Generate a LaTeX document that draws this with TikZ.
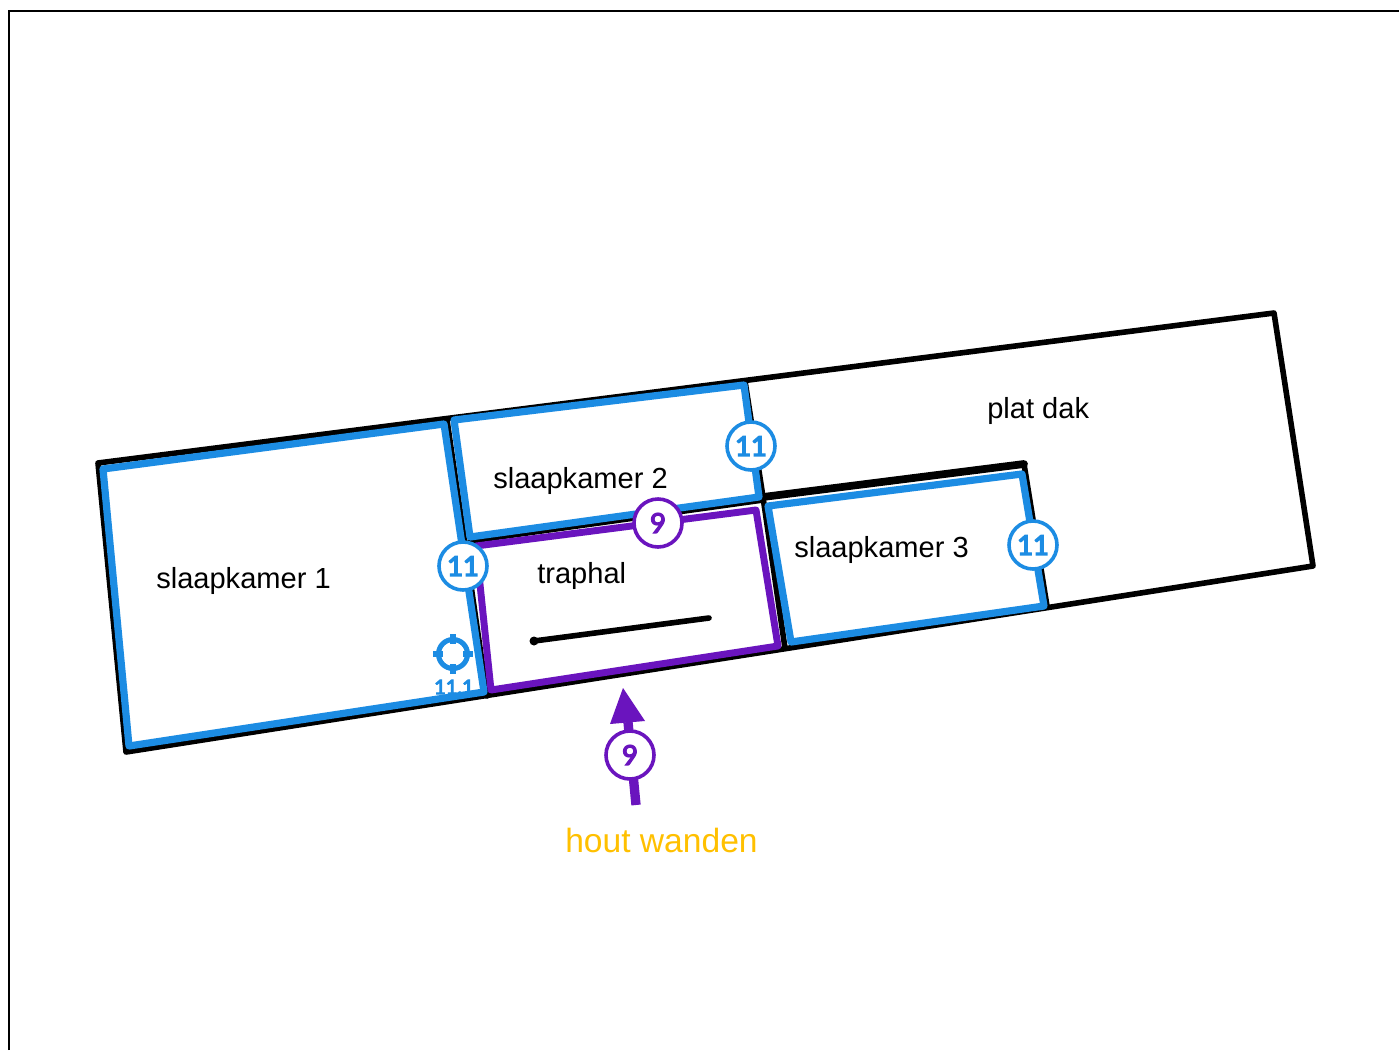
\documentclass[tikz,border=0pt]{standalone}
\usepackage{fontspec}
\setmainfont{Liberation Sans}
\newfontfamily\badgefont[FakeBold=5]{Lato}
\definecolor{bluewall}{HTML}{1C8CE3}
\definecolor{purplewall}{HTML}{6A14BE}
\definecolor{goldtext}{HTML}{FFC000}
\tikzset{
  wall/.style={draw=black,line width=5.8pt,line join=round,line cap=round},
  thinwall/.style={draw=black,line width=4.2pt,line join=round,line cap=round},
  blueroom/.style={draw=bluewall,line width=5.4pt,line join=round,line cap=round},
  purpleroom/.style={draw=purplewall,line width=5.2pt,line join=round,line cap=round},
  roomlabel/.style={font=\fontsize{21.8}{26}\selectfont,text=black,inner sep=0pt,anchor=base west},
  badge/.style={circle,draw=#1,fill=white,line width=2.7pt,minimum size=36pt,inner sep=0pt,text=#1,font=\badgefont\fontsize{20.5}{24}\selectfont},
}
\begin{document}
\begin{tikzpicture}[x=0.75pt,y=-0.75pt]
\useasboundingbox (0,0) rectangle (1399,1050);
\fill[white] (0,0) rectangle (1399,1050);
% frame
\draw[black,line width=2.2pt] (9,1050) -- (9,11) -- (1399,11);
% outline
\draw[thinwall] (98,463) -- (1274,313) -- (1313,566) -- (126,752) -- cycle;
% inner walls
\draw[thinwall] (447,420) -- (487,696);
\draw[thinwall] (745,381) -- (763,497) -- (785,648);
\draw[wall] (763,497) -- (1024,464);
\draw[thinwall] (1024,464) -- (1047,606);
\draw[thinwall] (470,541) -- (763,500);
% crosshair label, its foot hidden by the wall
\node[inner sep=0pt,text=bluewall,font=\badgefont\fontsize{15}{17}\selectfont] (crosslabel) at (454,687) {11.1};
% rooms
\draw[blueroom] (103,469) -- (444,424) -- (484,692) -- (129,746) -- cycle;
\draw[blueroom] (454,420) -- (744,385) -- (759,497) -- (470,537) -- cycle;
\draw[blueroom] (768,506) -- (1022,474) -- (1044,606) -- (791,642) -- cycle;
\draw[purpleroom] (476,546) -- (756,510) -- (778,646) -- (491,690) -- cycle;
% stair
\coordinate (stairA) at (534,641);
\coordinate (stairB) at (709,618);
\draw[black,line width=4.2pt,line cap=round] (stairA) -- (stairB);
\fill[black] (stairA) circle (4.5);
% crosshair
\begin{scope}[draw=bluewall,line width=3.8pt]
\draw (453,654) circle (14.5);
\draw (453,634) -- (453,644);
\draw (453,664) -- (453,674);
\draw (433,654) -- (443,654);
\draw (463,654) -- (473,654);
\end{scope}
% entry arrow
\coordinate (arrowTail) at (636,805);
\coordinate (arrowNeck) at (628,722);
\draw[purplewall,line width=7pt] (arrowTail) -- (arrowNeck);
\fill[purplewall] (623,688) -- (645,721) -- (610,724) -- cycle;
% labels
\node[roomlabel] (s1) at (156,588) {slaapkamer 1};
\node[roomlabel] (s2) at (493,488) {slaapkamer 2};
\node[roomlabel] (s3) at (794,557) {slaapkamer 3};
\node[roomlabel] (th) at (537,583) {traphal};
\node[roomlabel] (pd) at (987,418) {plat dak};
\node[inner sep=0pt,anchor=base west,text=goldtext,font=\fontsize{25.2}{30}\selectfont] (hout) at (565,852) {hout wanden};
% badges
\node[badge=bluewall] (b1) at (751,446) {11};
\node[badge=bluewall] (b2) at (1033,545) {11};
\node[badge=bluewall] (b3) at (463,566) {11};
\node[badge=purplewall] (b4) at (658,523) {9};
\node[badge=purplewall] (b5) at (630,755) {9};
\end{tikzpicture}
\end{document}
